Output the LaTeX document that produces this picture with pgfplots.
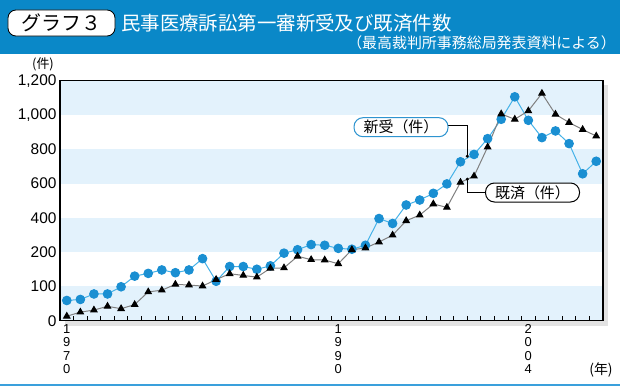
\documentclass[border=0pt]{standalone}
\usepackage{pgfplots}
\pgfplotsset{compat=1.18}
\usepackage{pgfplotstable}
\usetikzlibrary{arrows.meta}
\usepackage{fontspec}
\setmainfont{Liberation Sans}
\newfontfamily\jp{Noto Sans CJK JP}
\definecolor{headerblue}{HTML}{0A88C8}
\definecolor{bandblue}{HTML}{E3F2FC}
\definecolor{markblue}{HTML}{1A8FD2}
\definecolor{lineblue}{HTML}{45B2E8}
\definecolor{boxblue}{HTML}{2E94D0}
\definecolor{shadowgray}{HTML}{E2E2E2}
\definecolor{bottomblue}{HTML}{3AA0DC}

\pgfplotstableread{
year new done
1970 59 13
1971 62 25
1972 78 31
1973 78 42
1974 99 35
1975 130 47
1976 138 84
1977 148 89
1978 140 106
1979 148 104
1980 181 101
1981 115 120
1982 158 137
1983 158 132
1984 150 127
1985 160 153
1986 197 154
1987 214 188
1988 244 178
1989 240 177
1990 222 166
1991 217 214
1992 240 224
1993 396 259
1994 367 299
1995 475 383
1996 504 416
1997 543 481
1998 598 461
1999 727 607
2000 770 643
2001 862 813
2002 975 1006
2003 1106 975
2004 969 1024
2005 868 1126
2006 907 1004
2007 833 956
2008 657 915
2009 730 877
}\data

\begin{document}
\begin{tikzpicture}[x=1bp,y=1bp]
\path[use as bounding box] (0,0) rectangle (620,388);
% header
\fill[headerblue] (0,334) rectangle (620,388);
\node[draw=black, fill=white, rounded corners=8bp, line width=0.8bp, minimum width=107bp, minimum height=26bp, inner sep=0pt] at (61.5,365) {\jp\fontsize{20}{20}\selectfont グラフ３};
\node[anchor=west, text=white, inner sep=0pt] at (121,365) {\jp\fontsize{19.5}{20}\selectfont 民事医療訴訟第一審新受及び既済件数};
\node[anchor=east, text=white, inner sep=0pt] at (616,345) {\jp\fontsize{15}{15}\selectfont （最高裁判所事務総局発表資料による）};
% shadow
\fill[shadowgray] (65,62) rectangle (608,303);
\begin{axis}[
  at={(60bp,67.3bp)}, anchor=south west,
  scale only axis, width=543bp, height=240bp,
  xmin=1969.5, xmax=2009.5, ymin=0, ymax=1400,
  axis line style={line width=1.2bp},
  xtick={1970,1990,2004},
  xticklabels={{1\\9\\7\\0},{1\\9\\9\\0},{2\\0\\0\\4}},
  xticklabel style={align=center, font=\fontsize{13}{13.5}\selectfont},
  major tick length=0pt,
  minor xtick={1970.5,1971.5,...,2008.5},
  minor tick length=5bp,
  minor tick style={black, line width=0.8bp},
  xtick pos=bottom, ytick pos=left, tick align=inside,
  ytick={0,200,400,600,800,1000,1200,1400},
  yticklabels={0,100,200,400,600,800,{1,000},{1,200}},
  yticklabel style={font=\fontsize{15.5}{16}\selectfont},
  axis on top,
]
\fill[bandblue] (axis cs:1969.5,0) rectangle (axis cs:2009.5,200);
\fill[white] (axis cs:1969.5,200) rectangle (axis cs:2009.5,400);
\fill[bandblue] (axis cs:1969.5,400) rectangle (axis cs:2009.5,600);
\fill[white] (axis cs:1969.5,600) rectangle (axis cs:2009.5,800);
\fill[bandblue] (axis cs:1969.5,800) rectangle (axis cs:2009.5,1000);
\fill[white] (axis cs:1969.5,1000) rectangle (axis cs:2009.5,1200);
\fill[bandblue] (axis cs:1969.5,1200) rectangle (axis cs:2009.5,1400);
\addplot[color=lineblue, line width=1bp, mark=*, mark size=4.3bp, mark options={fill=markblue, draw=markblue}]
  table[x=year, y expr={\thisrow{new}<=200 ? 2*\thisrow{new} : \thisrow{new}+200}] {\data};
\addplot[color=gray, line width=1bp, mark=triangle*, mark size=3.6bp, mark options={fill=black, draw=black}]
  table[x=year, y expr={\thisrow{done}<=200 ? 2*\thisrow{done} : \thisrow{done}+200}] {\data};
\end{axis}
% labels
\draw[line width=0.8bp, -{Circle[length=3bp]}] (448,262.3) -- (467.3,262.3) -- (467.3,230.3);
\draw[line width=0.8bp, -{Circle[length=3bp]}] (485.7,195.7) -- (467.3,195.7) -- (467.3,210.3);
\node[draw=boxblue, fill=white, rounded corners=9bp, line width=1bp, minimum width=94bp, minimum height=19bp, inner sep=0pt] at (401,260.8) {\jp\fontsize{15}{15}\selectfont 新受（件）};
\node[draw=black, fill=white, rounded corners=9bp, line width=1bp, minimum width=94bp, minimum height=19bp, inner sep=0pt] at (532.5,195.5) {\jp\fontsize{15}{15}\selectfont 既済（件）};
\node[inner sep=0pt] at (43,324) {\jp\fontsize{13}{13}\selectfont (件)};
\node[inner sep=0pt] at (601,18) {\jp\fontsize{14}{14}\selectfont (年)};
\draw[line width=2bp, bottomblue] (0,3) -- (620,3);
\end{tikzpicture}
\end{document}
